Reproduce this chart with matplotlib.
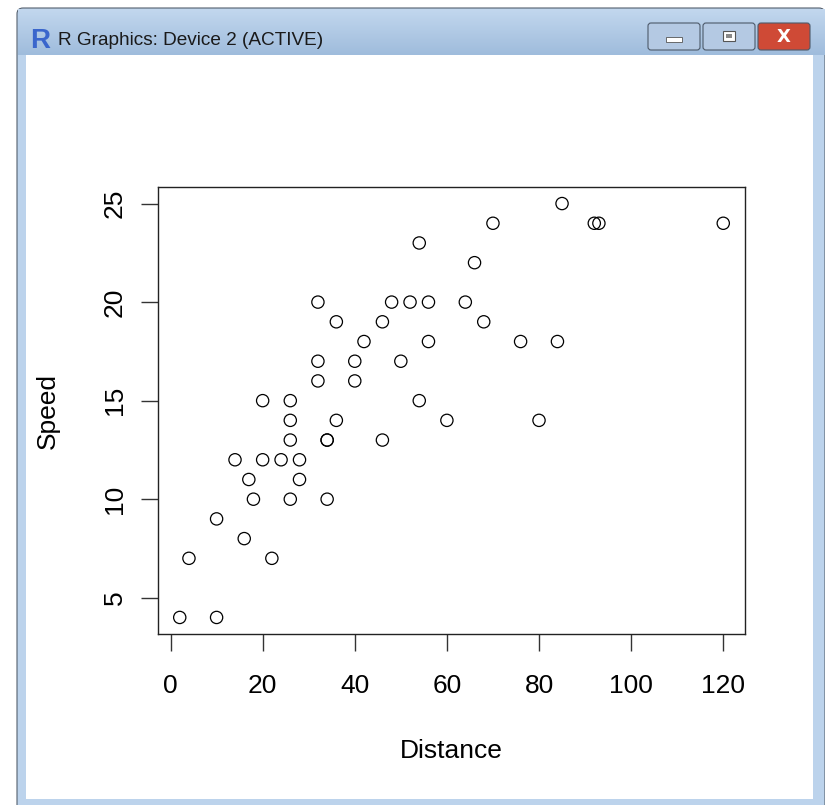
import matplotlib.pyplot as plt
import matplotlib.patches as mpatches
import numpy as np

# cars dataset (R)
speed = [4, 4, 7, 7, 8, 9, 10, 10, 10, 11, 11, 12, 12, 12, 12, 13, 13, 13, 13, 14,
         14, 14, 14, 15, 15, 15, 16, 16, 17, 17, 17, 18, 18, 18, 18, 19, 19, 19, 20, 20,
         20, 20, 20, 22, 23, 24, 24, 24, 24, 25]
dist = [2, 10, 4, 22, 16, 10, 18, 26, 34, 17, 28, 14, 20, 24, 28, 26, 34, 34, 46, 26,
        36, 60, 80, 20, 26, 54, 32, 40, 32, 40, 50, 42, 56, 76, 84, 36, 46, 68, 32, 48,
        52, 56, 64, 66, 54, 70, 92, 93, 120, 85]
xticks = [0, 20, 40, 60, 80, 100, 120]
yticks = [5, 10, 15, 20, 25]

W, H = 825, 805
fig = plt.figure(figsize=(W / 100, H / 100), dpi=100)
fig.patch.set_facecolor('white')

# window chrome, drawn in pixel coords
bg = fig.add_axes([0, 0, 1, 1])
bg.set_xlim(0, W)
bg.set_ylim(H, 0)
bg.axis('off')

frame = mpatches.FancyBboxPatch((17, 8), 808, 810, boxstyle='round,pad=0,rounding_size=6',
                                facecolor='#bcd3ec', edgecolor='#55606e', lw=0.8)
bg.add_patch(frame)
# title bar gradient
grad = np.linspace(0, 1, 50).reshape(-1, 1)
bg.imshow(grad, extent=(18, 825, 9, 55), cmap=plt.matplotlib.colors.LinearSegmentedColormap.from_list(
    'tb', ['#9fbcdc', '#c2d7ee']), aspect='auto', zorder=1)
bg.add_patch(mpatches.Rectangle((26, 55), 787, 744, facecolor='white', edgecolor='none', zorder=2))

# R icon + title
bg.text(30, 48, 'R', fontsize=20, fontweight='bold', color='#3a66cc', family='Liberation Sans',
        va='baseline', zorder=3)
bg.text(58, 45, 'R Graphics: Device 2 (ACTIVE)', fontsize=13.7, color='#1a1a1a',
        family='Liberation Sans', va='baseline', zorder=3)

# caption buttons
for x0, col in [(648, '#b4c9e3'), (703, '#b4c9e3'), (758, '#cf4a36')]:
    bg.add_patch(mpatches.FancyBboxPatch((x0, 23), 52, 27, boxstyle='round,pad=0,rounding_size=3',
                                         facecolor=col, edgecolor='#4d5a6a', lw=0.8, zorder=3))
bg.add_patch(mpatches.Rectangle((666, 37), 16, 5, facecolor='white', edgecolor='#555', lw=0.6, zorder=4))
bg.add_patch(mpatches.Rectangle((723, 31), 12, 10, facecolor='white', edgecolor='#555', lw=0.8, zorder=4))
bg.add_patch(mpatches.Rectangle((726, 34), 6, 4, facecolor='#888', edgecolor='none', zorder=5))
bg.text(784, 37, 'X', fontsize=13, fontweight='bold', color='white', ha='center', va='center',
        family='DejaVu Sans', zorder=4)

# plot region
L, R, T, B = 158, 745, 187, 634
ax = fig.add_axes([L / W, 1 - B / H, (R - L) / W, (B - T) / H])
ax.scatter(dist, speed, s=78, facecolors='none', edgecolors='black', linewidths=0.9, zorder=3)

xr = max(dist) - min(dist)
yr = max(speed) - min(speed)
ax.set_xlim(min(dist) - 0.04 * xr, max(dist) + 0.04 * xr)
ax.set_ylim(min(speed) - 0.04 * yr, max(speed) + 0.04 * yr)
ax.set_xticks(xticks)
ax.set_yticks(yticks)
ax.set_yticklabels([str(v) for v in yticks], rotation=90, va='center')
for s in ax.spines.values():
    s.set_linewidth(1.0)
    s.set_color('#222222')
ax.tick_params(length=12.5, width=1.0, color='#333333', labelsize=19)
ax.tick_params(axis='x', pad=16.5)
ax.tick_params(axis='y', pad=10)
for lab in ax.get_xticklabels() + ax.get_yticklabels():
    lab.set_family('Liberation Sans')
ax.set_xlabel('Distance', fontsize=19, family='Liberation Sans', labelpad=29)
ax.set_ylabel('Speed', fontsize=19, family='Liberation Sans', labelpad=31)

plt.savefig('out.png', dpi=100)
